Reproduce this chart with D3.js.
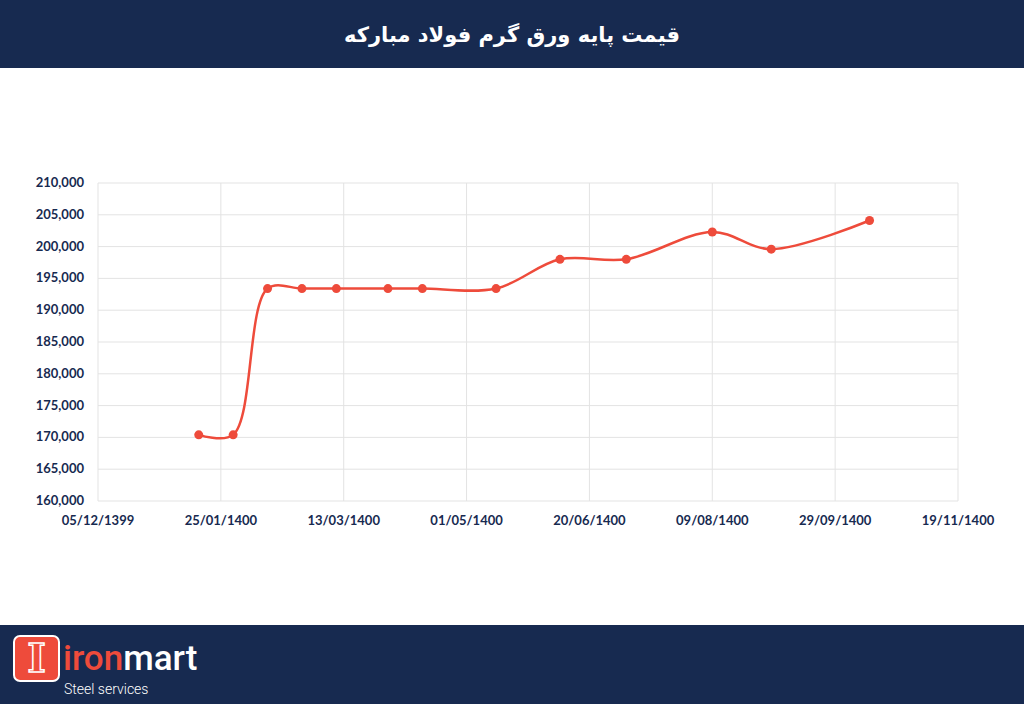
<!DOCTYPE html>
<html><head><meta charset="utf-8">
<script src="https://cdn.jsdelivr.net/npm/d3@7"></script>
<style>body{margin:0;background:#fff}svg{display:block}</style>
</head><body><div class="canvas"></div>
<script>
// days counted from 05/12/1399
const days = [41, 55, 69, 83, 97, 118, 132, 162, 188, 215, 250, 274, 314];
const prices = [170400, 170400, 193400, 193400, 193400, 193400, 193400, 193400, 198000, 198000, 202300, 199600, 204100];
const tickDays = [0, 50, 100, 150, 200, 250, 300, 350];
const tickLabels = ['05/12/1399', '25/01/1400', '13/03/1400', '01/05/1400', '20/06/1400', '09/08/1400', '29/09/1400', '19/11/1400'];
const yTicks = d3.range(160000, 210001, 5000);
const title = 'قیمت پایه ورق گرم فولاد مبارکه';

const navy = '#172a50', red = '#ee4b3b';
const svg = d3.select('.canvas').append('svg').attr('width', 1024).attr('height', 704);

svg.append('rect').attr('width', 1024).attr('height', 68).attr('fill', navy);
svg.append('text').attr('x', 512).attr('y', 42).attr('text-anchor', 'middle')
  .attr('fill', '#fff').style('font-family', 'DejaVu Sans').style('font-weight', 'bold')
  .style('font-size', '21px').attr('direction', 'rtl').text(title);

const x = d3.scaleLinear().domain([0, 350]).range([98, 958]);
const y = d3.scaleLinear().domain([160000, 210000]).range([501, 183]);

const g = svg.append('g');
g.selectAll('.hg').data(yTicks).enter().append('line')
  .attr('x1', 98).attr('x2', 958).attr('y1', d => y(d)).attr('y2', d => y(d))
  .attr('stroke', '#e3e3e3');
g.selectAll('.vg').data(tickDays).enter().append('line')
  .attr('y1', 183).attr('y2', 501).attr('x1', d => x(d)).attr('x2', d => x(d))
  .attr('stroke', '#e3e3e3');

const font = 'Lato';
g.selectAll('.yl').data(yTicks).enter().append('text')
  .attr('x', 84).attr('y', d => y(d) + 4).attr('text-anchor', 'end')
  .attr('fill', navy).style('font-family', font).style('font-weight', 'bold').style('font-size', '13px')
  .text(d3.format(','));
g.selectAll('.xl').data(tickDays).enter().append('text')
  .attr('x', d => x(d)).attr('y', 525).attr('text-anchor', 'middle')
  .attr('fill', navy).style('font-family', font).style('font-weight', 'bold').style('font-size', '13px')
  .text((d, i) => tickLabels[i]);

const pts = days.map((d, i) => [x(d), y(prices[i])]);
g.append('path').attr('d', d3.line().curve(d3.curveCatmullRom.alpha(0.5))(pts))
  .attr('fill', 'none').attr('stroke', red).attr('stroke-width', 2.5);
g.selectAll('circle').data(pts).enter().append('circle')
  .attr('cx', d => d[0]).attr('cy', d => d[1]).attr('r', 4.5).attr('fill', red);

// footer
svg.append('rect').attr('y', 625).attr('width', 1024).attr('height', 79).attr('fill', navy);
svg.append('rect').attr('x', 14).attr('y', 636).attr('width', 45).attr('height', 45).attr('rx', 6)
  .attr('fill', red).attr('stroke', '#fff').attr('stroke-width', 2);
svg.append('text').attr('x', 36.5).attr('y', 672).attr('text-anchor', 'middle').attr('fill', 'none')
  .attr('stroke', '#fff').attr('stroke-width', 1.5).style('font-family', 'DejaVu Serif')
  .style('font-weight', 'bold').style('font-size', '40px').text('I');
const logo = svg.append('text').attr('x', 63).attr('y', 670).style('font-family', 'Roboto')
  .style('font-size', '35px').style('font-weight', '500');
logo.append('tspan').attr('fill', red).text('iron');
logo.append('tspan').attr('fill', '#fff').text('mart');
svg.append('text').attr('x', 64).attr('y', 694).attr('fill', '#fff').style('font-family', 'Roboto')
  .style('font-size', '14px').style('font-weight', '300').text('Steel services');
</script></body></html>
